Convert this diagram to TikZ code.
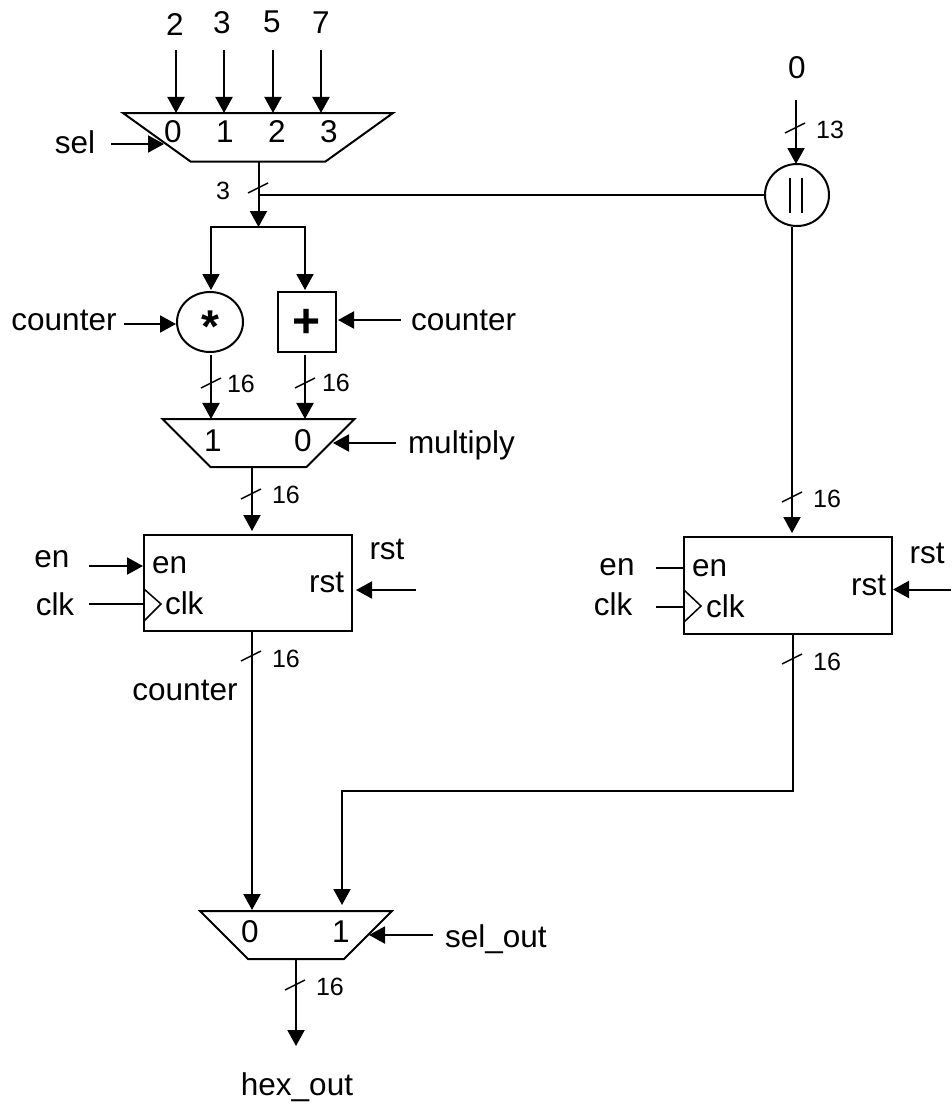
\documentclass[tikz,border=0pt]{standalone}
\usepackage{fontspec}
\setmainfont{Liberation Sans}
\usetikzlibrary{arrows.meta,shapes.geometric}
\newcommand{\busmark}[2]{\draw[busline] (#1-10,#2+5) -- (#1+10,#2-5);}
\newcommand{\muxbody}[2]{\phantom{\rule{#1pt}{#2pt}}}
\tikzset{
  wire/.style={line width=2pt,draw=black},
  arr/.style={wire,-{Triangle[length=16pt,width=17pt]}},
  busline/.style={line width=1.5pt,draw=black},
  lab/.style={inner sep=0pt,outer sep=0pt,anchor=base,font=\fontsize{31.5}{31.5}\selectfont},
  labl/.style={lab,anchor=base west},
  labr/.style={lab,anchor=base east},
  small/.style={inner sep=0pt,outer sep=0pt,anchor=base,font=\fontsize{25}{25}\selectfont},
  mux/.style={draw=black,line width=2pt,trapezium,shape border rotate=180,inner sep=0pt,outer sep=0pt},
  reg/.style={draw=black,line width=2pt,rectangle,inner sep=0pt,outer sep=0pt},
  oper/.style={draw=black,line width=2pt,ellipse,inner sep=0pt,outer sep=0pt},
}
\begin{document}
\begin{tikzpicture}[x=1pt,y=-1pt]
\useasboundingbox (0,0) rectangle (951,1106);
% blocks
\node[mux,trapezium angle=35.7] (m1) at (258,137.25) {\muxbody{135}{48.5}};
\node[mux,trapezium angle=45] (m2) at (258.5,443) {\muxbody{96}{48}};
\node[mux,trapezium angle=45] (m3) at (296,935) {\muxbody{96}{48}};
\node[oper,minimum width=66pt,minimum height=60pt] (mul) at (210,322) {};
\node[reg,minimum width=58pt,minimum height=60pt] (add) at (307,322) {};
\node[oper,minimum width=64pt,minimum height=62pt] (cat) at (797,195) {};
\node[reg,minimum width=208pt,minimum height=96pt] (r1) at (248,583) {};
\node[reg,minimum width=208pt,minimum height=97pt] (r2) at (788,585.5) {};
% labels
\node[lab] (t2) at (175,35) {2};
\node[lab] (t3) at (222,33) {3};
\node[lab] (t5) at (272,32) {5};
\node[lab] (t7) at (321,33) {7};
\node[lab] (m1a) at (173,142) {0};
\node[lab] (m1b) at (225,142) {1};
\node[lab] (m1c) at (277,142) {2};
\node[lab] (m1d) at (329,142) {3};
\node[lab] (sel) at (75,153) {sel};
\node[small] (w3) at (223,199) {3};
\node[lab] (cl) at (64,330) {counter};
\node[labl] (cr) at (411,330) {counter};
\node[inner sep=0pt,anchor=base,font=\fontsize{46}{46}\selectfont\bfseries] (star) at (210,342.5) {*};
\node[inner sep=0pt,anchor=base,font=\fontsize{48}{48}\selectfont\bfseries] (plus) at (307,337) {+};
\node[small] (w16a) at (241,392) {16};
\node[small] (w16b) at (336,391) {16};
\node[lab] (m2a) at (213,451) {1};
\node[lab] (m2b) at (303,451) {0};
\node[labl] (mult) at (408,453) {multiply};
\node[small] (w16c) at (286,503) {16};
\node[lab] (en1) at (52,567) {en};
\node[lab] (clk1) at (55,615) {clk};
\node[labl] (en1i) at (152,573) {en};
\node[labl] (clk1i) at (165,614) {clk};
\node[labr] (rst1i) at (344,592) {rst};
\node[lab] (rst1) at (387,559) {rst};
\node[small] (w16d) at (286,667) {16};
\node[lab] (cnt) at (185,700) {counter};
\node[lab] (zero) at (797,78) {0};
\node[small] (w13) at (830,138) {13};
\node[small] (w16e) at (827,507) {16};
\node[lab] (en2) at (617,575) {en};
\node[lab] (clk2) at (613,615) {clk};
\node[labl] (en2i) at (692,576) {en};
\node[labl] (clk2i) at (706,617) {clk};
\node[labr] (rst2i) at (886,595) {rst};
\node[lab] (rst2) at (927,563) {rst};
\node[small] (w16f) at (827,670) {16};
\node[lab] (m3a) at (250,942) {0};
\node[lab] (m3b) at (341,942) {1};
\node[labl] (selo) at (445,947) {sel\_out};
\node[small] (w16g) at (330,995) {16};
\node[lab] (hex) at (297,1095) {hex\_out};
% free ends
\coordinate (i0) at (176,50);
\coordinate (i1) at (224,50);
\coordinate (i2) at (273,50);
\coordinate (i3) at (321,50);
\coordinate (sels) at (111,144);
\coordinate (sele) at (164,144);
\coordinate (jn) at (258.5,195);
\coordinate (brc) at (258.5,227);
\coordinate (brl) at (211,227);
\coordinate (brr) at (305,227);
\coordinate (mulo) at (211,355);
\coordinate (addo) at (305,355);
\coordinate (cls) at (124,324);
\coordinate (cle) at (176,324);
\coordinate (crs) at (401,320);
\coordinate (cre) at (338,320);
\coordinate (mults) at (396,443);
\coordinate (multe) at (333,443);
\coordinate (en1s) at (89,566);
\coordinate (en1e) at (143,566);
\coordinate (clk1s) at (89,604);
\coordinate (clk1e) at (144,604);
\coordinate (rst1s) at (416,590);
\coordinate (rst1e) at (356,590);
\coordinate (zs) at (796,100);
\coordinate (en2s) at (656,568);
\coordinate (en2e) at (684,568);
\coordinate (clk2s) at (656,607);
\coordinate (clk2e) at (684,607);
\coordinate (rst2s) at (951,589.5);
\coordinate (rst2e) at (893,589.5);
\coordinate (catout) at (792,227);
\coordinate (r2o) at (793,634);
\coordinate (bend1) at (793,791);
\coordinate (bend2) at (342,791);
\coordinate (m3in1) at (342,905);
\coordinate (seloS) at (433,935);
\coordinate (seloE) at (369,935);
\coordinate (hexe) at (296,1046);
% connectors
\draw[arr] (i0) -- (i0 |- m1.north);
\draw[arr] (i1) -- (i1 |- m1.north);
\draw[arr] (i2) -- (i2 |- m1.north);
\draw[arr] (i3) -- (i3 |- m1.north);
\draw[arr] (sels) -- (sele);
\draw[arr] (jn |- m1.south) -- (brc);
\draw[wire] (jn) -- (cat.west);
\draw[wire,line cap=rect] (brl) -- (brr);
\draw[arr] (brl) -- ([yshift=2pt]brl |- mul.north);
\draw[arr] (brr) -- ([yshift=2pt]brr |- add.north);
\draw[arr] (cls) -- (cle);
\draw[arr] (crs) -- (cre);
\draw[arr] (mulo) -- (mulo |- m2.north);
\draw[arr] (addo) -- (addo |- m2.north);
\draw[arr] (mults) -- (multe);
\draw[arr] (252,467) -- (252,531);
\draw[arr] (en1s) -- (en1e);
\draw[wire] (clk1s) -- (clk1e);
\draw[arr] (rst1s) -- (rst1e);
\draw[arr] (252,631) -- (252,910);
\draw[arr] (zs) -- (zs |- cat.north);
\draw[arr] (catout) -- (792,533);
\draw[wire] (en2s) -- (en2e);
\draw[wire] (clk2s) -- (clk2e);
\draw[arr] (rst2s) -- (rst2e);
\draw[wire,line join=miter] (r2o) -- (bend1) -- (bend2) -- ++(0,2);
\draw[arr] (bend2) -- (m3in1);
\draw[arr] (seloS) -- (seloE);
\draw[arr] (296,959) -- (hexe);
% clock triangles
\draw[busline] (144,589) -- (161,604) -- (144,621);
\draw[busline] (684,590) -- (701,606) -- (684,622);
% concatenation bars
\draw[wire] (790,178) -- (790,213);
\draw[wire] (802,178) -- (802,213);
% bus width marks
\busmark{258}{188}
\busmark{211}{383}
\busmark{305}{383}
\busmark{251}{494}
\busmark{251}{656}
\busmark{795}{128}
\busmark{792}{497}
\busmark{792}{659}
\busmark{295}{985}
\end{tikzpicture}
\end{document}
